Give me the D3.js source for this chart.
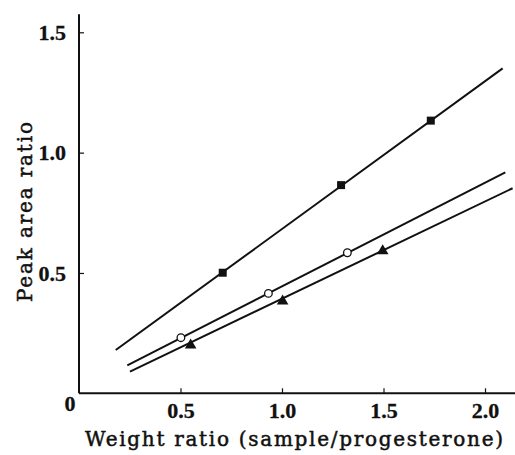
<!DOCTYPE html>
<html>
<head>
<meta charset="utf-8">
<script src="https://cdn.jsdelivr.net/npm/d3@7"></script>
<style>
  body { margin: 0; background: #fff; }
  svg { display: block; }
  text { font-family: "Liberation Serif", "DejaVu Serif", serif; fill: #111; }
  .title { font-family: "DejaVu Serif", "Liberation Serif", serif; }
</style>
</head>
<body>
<svg id="chart" width="515" height="455"></svg>
<script>
// points
var squareX = [0.708, 1.291, 1.733];
var squareY = [0.501, 0.865, 1.133];
var circleX = [0.502, 0.933, 1.322];
var circleY = [0.231, 0.415, 0.584];
var triangleX = [0.550, 1.003, 1.496];
var triangleY = [0.200, 0.383, 0.592];

// ends of the fitted lines
var squareLineX = [0.181, 2.087];
var squareLineY = [0.180, 1.350];
var circleLineX = [0.238, 2.100];
var circleLineY = [0.116, 0.918];
var triangleLineX = [0.251, 2.136];
var triangleLineY = [0.090, 0.852];

var xTicks = [0.5, 1.0, 1.5, 2.0];
var yTicks = [0.5, 1.0, 1.5];

const main = function(){
  var svg = d3.select('#chart');

  var x = d3.scaleLinear().domain([0, 2.0]).range([79, 485]);
  var y = d3.scaleLinear().domain([0, 1.5]).range([393.3, 32.3]);

  // axis lines
  svg.append("line")
    .attr("x1", x(0)).attr("x2", x(2.15))
    .attr("y1", y(0)).attr("y2", y(0))
    .attr("stroke", "#111").attr("stroke-width", 2);
  svg.append("line")
    .attr("x1", x(0)).attr("x2", x(0))
    .attr("y1", y(0)).attr("y2", y(1.575))
    .attr("stroke", "#111").attr("stroke-width", 2);

  var xAxis = svg.append("g")
    .attr("transform", "translate(0," + y(0) + ")")
    .call(d3.axisBottom(x).tickValues(xTicks).tickSize(-5).tickPadding(9)
      .tickFormat(d3.format(".1f")));
  var yAxis = svg.append("g")
    .attr("transform", "translate(" + x(0) + ",0)")
    .call(d3.axisLeft(y).tickValues(yTicks).tickSize(-5).tickPadding(13)
      .tickFormat(d3.format(".1f")));

  [xAxis, yAxis].forEach(function(a){
    a.select(".domain").remove();
    a.selectAll(".tick line").attr("stroke", "#111").attr("stroke-width", 1.2);
    a.selectAll(".tick text")
      .attr("fill", "#111")
      .attr("stroke", "#111").attr("stroke-width", 0.3)
      .style("font-size", "22px")
      .style("font-weight", "bold");
  });

  // the corner zero
  svg.append("text")
    .attr("x", x(0) - 9).attr("y", y(0) + 18)
    .attr("text-anchor", "middle")
    .attr("stroke", "#111").attr("stroke-width", 0.3)
    .style("font-size", "22px").style("font-weight", "bold")
    .text("0");

  // titles
  svg.append("text")
    .attr("class", "title")
    .attr("x", 85).attr("y", 446)
    .attr("textLength", 418).attr("lengthAdjust", "spacing")
    .style("font-size", "20px")
    .attr("stroke", "#111").attr("stroke-width", 0.5)
    .text("Weight ratio (sample/progesterone)");
  svg.append("text")
    .attr("class", "title")
    .attr("transform", "translate(32,302) rotate(-90)")
    .attr("textLength", 180).attr("lengthAdjust", "spacing")
    .style("font-size", "20px")
    .attr("stroke", "#111").attr("stroke-width", 0.5)
    .text("Peak area ratio");

  var line = d3.line().x(function(d){ return x(d[0]); }).y(function(d){ return y(d[1]); });
  [[squareLineX, squareLineY], [circleLineX, circleLineY], [triangleLineX, triangleLineY]]
    .forEach(function(s){
      svg.append("path")
        .datum(d3.zip(s[0], s[1]))
        .attr("d", line)
        .attr("fill", "none")
        .attr("stroke", "#111")
        .attr("stroke-width", 2);
    });

  svg.selectAll(".sq").data(d3.zip(squareX, squareY)).enter()
    .append("path").attr("class", "sq")
    .attr("transform", function(d){ return "translate(" + x(d[0]) + "," + y(d[1]) + ")"; })
    .attr("d", d3.symbol(d3.symbolSquare, 64))
    .attr("fill", "#111");

  svg.selectAll(".ci").data(d3.zip(circleX, circleY)).enter()
    .append("circle").attr("class", "ci")
    .attr("cx", function(d){ return x(d[0]); })
    .attr("cy", function(d){ return y(d[1]); })
    .attr("r", 3.8)
    .attr("fill", "#fff")
    .attr("stroke", "#111")
    .attr("stroke-width", 1.3);

  svg.selectAll(".tr").data(d3.zip(triangleX, triangleY)).enter()
    .append("path").attr("class", "tr")
    .attr("transform", function(d){ return "translate(" + x(d[0]) + "," + y(d[1]) + ")"; })
    .attr("d", d3.symbol(d3.symbolTriangle, 58))
    .attr("fill", "#111");
}

main();
</script>
</body>
</html>
